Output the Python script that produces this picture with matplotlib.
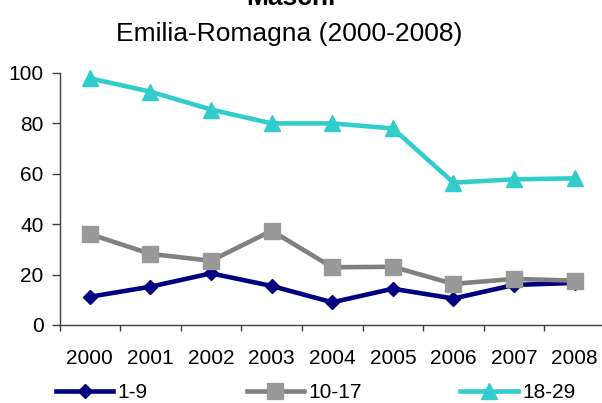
import numpy as np
import matplotlib.pyplot as plt

plt.rcParams['font.family'] = ['Liberation Sans', 'DejaVu Sans']

years = ['2000', '2001', '2002', '2003', '2004', '2005', '2006', '2007', '2008']
eta_1_9 = [11.2, 15.2, 20.5, 15.5, 9.0, 14.4, 10.5, 15.9, 16.7]
eta_10_17 = [36.1, 28.2, 25.5, 37.4, 22.9, 23.1, 16.3, 18.3, 17.6]
eta_18_29 = [97.9, 92.6, 85.5, 80.0, 80.0, 78.0, 56.5, 57.8, 58.2]

W, H = 602, 403
fig = plt.figure(figsize=(W / 100, H / 100), dpi=100)
ax = fig.add_axes([59.5 / W, 1 - 325 / H, (605 - 59.5) / W, (325 - 73) / H])

x = np.arange(len(years))
ax.plot(x, eta_1_9, color='#000080', lw=3.3, marker='D', ms=7,
        mfc='#000080', mec='#000080', label='1-9', clip_on=False, zorder=3)
ax.plot(x, eta_10_17, color='#808080', lw=3.3, marker='s', ms=11.5,
        mfc='#999999', mec='#999999', label='10-17', clip_on=False, zorder=4)
ax.plot(x, eta_18_29, color='#33CCCC', lw=3.3, marker='^', ms=11.5,
        mfc='#33CCCC', mec='#33CCCC', label='18-29', clip_on=False, zorder=5)

ax.set_xlim(-0.5, len(years) - 0.5)
ax.set_ylim(0, 100)
ax.set_yticks([0, 20, 40, 60, 80, 100])
ax.set_xticks(np.arange(-0.5, len(years), 1))
ax.set_xticklabels([])
ax.set_xticks(x, minor=True)
ax.set_xticklabels(years, minor=True)

for s in ['top', 'right']:
    ax.spines[s].set_visible(False)
for s in ['left', 'bottom']:
    ax.spines[s].set_color('#404040')
    ax.spines[s].set_linewidth(1)

ax.tick_params(axis='x', which='major', length=4.5, width=1, color='#404040')
ax.tick_params(axis='x', which='minor', length=0, pad=17, labelsize=15)
ax.tick_params(axis='y', length=5.5, width=1, color='#404040', pad=6, labelsize=15)

fig.text(291 / W, 1 - 5 / H, 'Maschi', ha='center', va='baseline',
         fontsize=19, fontweight='bold')
fig.text(289 / W, 1 - 40.5 / H, 'Emilia-Romagna (2000-2008)', ha='center',
         va='baseline', fontsize=19)

fig.legend(loc='center left', bbox_to_anchor=(56 / W, 1 - 393 / H), ncol=3,
           frameon=False, fontsize=15, borderpad=0, borderaxespad=0,
           handlelength=2.75, handletextpad=0.2, columnspacing=4.75)

fig.savefig('out.png', dpi=100)
